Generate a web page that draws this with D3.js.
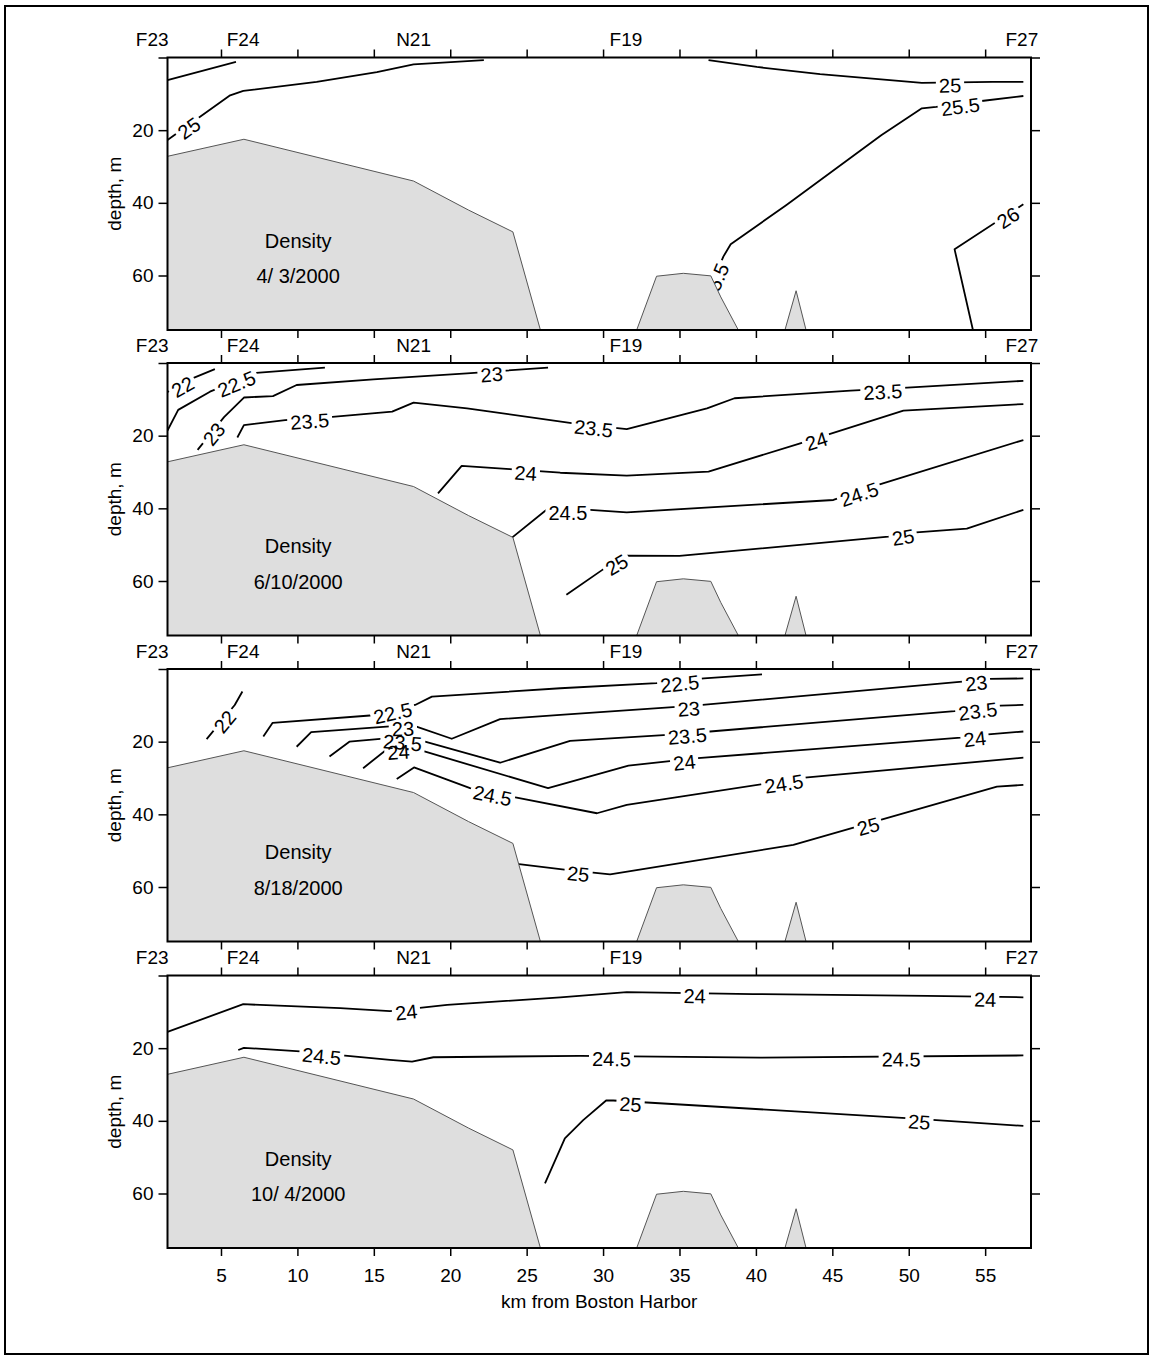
<!DOCTYPE html>
<html>
<head>
<meta charset="utf-8">
<title>Density sections, Boston Harbor transect, 2000</title>
<script src="https://cdn.jsdelivr.net/npm/d3@7"></script>
<style>
  html, body { margin: 0; padding: 0; background: #fff; }
  svg { display: block; font-family: "Liberation Sans", Arial, Helvetica, sans-serif; }
</style>
</head>
<body>
<svg id="chart" width="1153" height="1359"></svg>
<script>
// ---- axis values ----------------------------------------------------------
const kmTicks = [5, 10, 15, 20, 25, 30, 35, 40, 45, 50, 55];
const depthTicks = [0, 20, 40, 60];
const stationNames = ["F23", "F24", "N21", "F19", "F27"];
const stationKm = [0.5, 6.45, 17.6, 31.5, 57.4];
const surveyDates = ["4/ 3/2000", "6/10/2000", "8/18/2000", "10/ 4/2000"];

// ---- bottom profile along the transect (km, depth m) ----------------------
const seafloorKm    = [1.5, 6.5, 17.6, 21.2, 24.1, 25.9, 27, 31, 32.2, 33.5, 35.25, 37.05, 37.7, 38.85, 40, 41.9, 42.63, 43.28, 45, 58];
const seafloorDepth = [27.2, 22.5, 34, 42, 48, 75, 80, 80, 75, 60.2, 59.4, 60.1, 65.9, 75, 80, 75, 64.2, 75, 80, 80];

// ---- density (sigma-t) isolines per survey: level, km, depth, label spots --
const aprContours = [
  { level: 24.5, km: [1.5, 5.98], depth: [6.2, 1.2], labelKm: [] },
  { level: 25, km: [1.5, 5.6, 6.46, 11.26, 15.2, 17.6, 22.2], depth: [22.7, 10.4, 9.2, 6.7, 4.0, 1.9, 0.75], labelKm: [2.8] },
  { level: 25, km: [36.9, 40.06, 44.2, 50.86, 55.5, 57.5], depth: [0.75, 2.6, 4.6, 7.0, 6.7, 6.7], labelKm: [52.7] },
  { level: 25.5, km: [36.9, 37.87, 38.35, 42.0, 48.2, 50.86, 51.8, 54.9, 57.5], depth: [64.5, 54.8, 51.4, 40.6, 21.4, 14.0, 13.6, 11.9, 10.6], labelKm: [37.2, 53.35] },
  { level: 26, km: [54.2, 53.0, 57.5], depth: [75, 52.8, 40.4], labelKm: [56.4] }
];

const junContours = [
  { level: 22, km: [1.5, 2.97, 4.6], depth: [8.0, 4.5, 1.7], labelKm: [2.4] },
  { level: 22.5, km: [1.5, 2.2, 4.28, 7.3, 11.8], depth: [18.6, 12.9, 7.9, 2.7, 1.3], labelKm: [5.95] },
  { level: 23, km: [3.47, 5.2, 6.5, 8.4, 9.95, 14.97, 21.1, 26.4], depth: [23.9, 14.9, 9.5, 9.1, 6.05, 4.5, 2.85, 1.28], labelKm: [4.4, 22.7] },
  { level: 23.5, km: [6.07, 6.5, 9.2, 12.1, 16.2, 17.6, 21.1, 28.06, 31.55, 36.8, 38.6, 46.2, 49.9, 57.5], depth: [20.5, 17.1, 15.7, 14.9, 13.4, 10.9, 12.5, 16.6, 18.2, 12.5, 9.7, 7.6, 6.8, 4.9], labelKm: [10.8, 29.4, 48.3] },
  { level: 24, km: [19.2, 20.75, 23.9, 27.2, 31.55, 36.9, 42.9, 49.65, 57.5], depth: [35.9, 28.3, 29.2, 30.2, 31.0, 29.9, 22.1, 13.1, 11.3], labelKm: [24.95, 43.9] },
  { level: 24.5, km: [24.0, 26.3, 29.15, 31.55, 45.07, 48.1, 57.5], depth: [48.2, 40.4, 40.4, 41.1, 37.7, 33.4, 21.2], labelKm: [27.7, 46.7] },
  { level: 25, km: [27.6, 30.0, 31.55, 35.0, 48.67, 50.5, 53.8, 57.5], depth: [63.8, 56.8, 53.0, 53.1, 47.8, 46.6, 45.6, 40.4], labelKm: [30.8, 49.6] }
];

const augContours = [
  { level: 22, km: [4.06, 5.9, 6.4], depth: [19.3, 9.9, 6.2], labelKm: [5.1] },
  { level: 22.5, km: [7.77, 8.38, 14.75, 17.7, 18.8, 27.2, 33.5, 36.6, 40.4], depth: [18.6, 14.8, 12.8, 9.9, 7.6, 5.3, 3.9, 2.6, 1.5], labelKm: [16.2, 35.0] },
  { level: 23, km: [9.95, 10.9, 16.06, 17.6, 20.1, 23.26, 27.2, 34.8, 36.5, 53.5, 55.3, 57.5], depth: [21.4, 17.4, 15.8, 15.6, 19.2, 13.8, 12.6, 10.4, 9.9, 3.5, 2.7, 2.6], labelKm: [16.9, 35.6, 54.4] },
  { level: 23.5, km: [12.1, 13.4, 15.8, 18.35, 23.26, 27.84, 33.95, 37.0, 53.0, 56.0, 57.5], depth: [24.1, 20.0, 19.1, 20.0, 25.8, 19.8, 18.2, 17.2, 11.6, 10.1, 9.9], labelKm: [16.9, 35.5, 54.5] },
  { level: 24, km: [14.3, 15.8, 17.6, 26.4, 31.66, 36.0, 53.4, 55.2, 57.5], depth: [27.3, 22.3, 21.8, 32.8, 26.6, 24.6, 18.9, 18.0, 17.2], labelKm: [16.6, 35.3, 54.3] },
  { level: 24.5, km: [16.5, 17.63, 21.3, 24.35, 29.6, 31.55, 43.2, 57.5], depth: [30.3, 27.1, 32.8, 35.4, 39.7, 37.4, 29.9, 24.4], labelKm: [22.8, 41.8] },
  { level: 25, km: [24.5, 27.6, 30.46, 42.45, 48.1, 55.77, 57.5], depth: [53.7, 55.3, 56.5, 48.4, 41.6, 32.4, 31.9], labelKm: [28.4, 47.3] }
];

const octContours = [
  { level: 24, km: [1.5, 6.46, 12.8, 16.06, 19.8, 27.2, 31.55, 39.8, 51.2, 57.5], depth: [15.5, 7.9, 9.0, 9.8, 8.1, 6.0, 4.6, 5.1, 5.6, 6.0], labelKm: [17.1, 36.0, 55.0] },
  { level: 24.5, km: [6.13, 6.5, 10.17, 16.06, 17.5, 18.9, 28.5, 40.3, 57.5], depth: [20.5, 19.9, 20.9, 23.2, 23.7, 22.5, 22.1, 22.6, 22.0], labelKm: [11.6, 30.55, 49.5] },
  { level: 25, km: [26.2, 27.5, 28.7, 30.2, 30.67, 50.1, 57.5], depth: [57.2, 44.8, 39.8, 34.4, 34.4, 39.3, 41.4], labelKm: [31.8, 50.7] }
];

const surveys = [aprContours, junContours, augContours, octContours];

// ---- layout ---------------------------------------------------------------
const panelTop = [57.5, 363, 669, 975.5];
const panelH = 272.5;
const axisFont = 19;
const labelFont = 20;

const svg = d3.select("#chart");

// page frame
svg.append("rect")
  .attr("x", 5).attr("y", 6).attr("width", 1143).attr("height", 1348)
  .attr("fill", "none").attr("stroke", "#000").attr("stroke-width", 2);

const x = d3.scaleLinear().domain([1.5, 58]).range([167.5, 1031]);
const y = d3.scaleLinear().domain([0, 75]).range([0, panelH]);
const line = d3.line().x(d => x(d[0])).y(d => y(d[1]));
const floorArea = d3.area().x(d => x(d[0])).y0(y(95)).y1(d => y(d[1]));
const floor = d3.zip(seafloorKm, seafloorDepth);

// position and angle of a contour label placed at a given km along the line
function placeLabel(c, k) {
  for (let i = 0; i < c.km.length - 1; i++) {
    const k0 = c.km[i], k1 = c.km[i + 1];
    if (k >= Math.min(k0, k1) && k <= Math.max(k0, k1) && k0 !== k1) {
      const t = (k - k0) / (k1 - k0);
      const d = c.depth[i] + t * (c.depth[i + 1] - c.depth[i]);
      let ang = Math.atan2(y(c.depth[i + 1]) - y(c.depth[i]), x(k1) - x(k0)) * 180 / Math.PI;
      if (ang > 90) ang -= 180;
      if (ang < -90) ang += 180;
      return { level: c.level, px: x(k), py: y(d), angle: ang };
    }
  }
  return null;
}

surveys.forEach((contours, i) => {
  const g = svg.append("g").attr("transform", `translate(0,${panelTop[i]})`);
  const defs = g.append("defs");
  defs.append("clipPath").attr("id", `plot${i}`)
    .append("rect").attr("x", x(1.5)).attr("y", 0)
    .attr("width", x(58) - x(1.5)).attr("height", panelH);
  const mask = defs.append("mask").attr("id", `gaps${i}`)
    .attr("maskUnits", "userSpaceOnUse")
    .attr("x", 0).attr("y", -40).attr("width", 1153).attr("height", panelH + 80);
  mask.append("rect").attr("x", 0).attr("y", -40).attr("width", 1153).attr("height", panelH + 80).attr("fill", "#fff");

  const body = g.append("g").attr("clip-path", `url(#plot${i})`);

  // isolines, broken where a label sits
  body.append("g").attr("mask", `url(#gaps${i})`)
    .selectAll("path").data(contours).join("path")
    .attr("d", c => line(d3.zip(c.km, c.depth)))
    .attr("fill", "none").attr("stroke", "#000")
    .attr("stroke-width", 1.8).attr("stroke-linejoin", "round");

  // isoline labels
  const labels = contours.flatMap(c => c.labelKm.map(k => placeLabel(c, k))).filter(Boolean);
  const lg = body.append("g");
  labels.forEach(l => {
    const tf = `translate(${l.px},${l.py}) rotate(${l.angle})`;
    const t = lg.append("text")
      .attr("transform", tf).attr("y", 3)
      .attr("text-anchor", "middle").attr("dominant-baseline", "central")
      .attr("font-size", labelFont).attr("fill", "#000")
      .text(String(l.level));
    const w = t.node().getComputedTextLength();
    mask.append("rect").attr("transform", tf)
      .attr("x", -w / 2 - 3).attr("y", -5).attr("width", w + 6).attr("height", 16)
      .attr("fill", "#000");
  });

  // sea floor
  body.append("path").datum(floor).attr("d", floorArea).attr("fill", "#dedede");
  body.append("path").datum(floor).attr("d", line)
    .attr("fill", "none").attr("stroke", "#555").attr("stroke-width", 1);

  // survey caption
  g.append("text").attr("x", x(10.05)).attr("y", y(52.4))
    .attr("text-anchor", "middle").attr("font-size", labelFont).text("Density");
  g.append("text").attr("x", x(10.05)).attr("y", y(62.2))
    .attr("text-anchor", "middle").attr("font-size", labelFont).text(surveyDates[i]);

  // axes
  const styleAxis = a => {
    a.select(".domain").remove();
    a.selectAll("line").attr("stroke", "#000").attr("stroke-width", 1.5);
    a.attr("font-family", null).attr("font-size", axisFont);
    a.selectAll("text").attr("fill", "#000");
  };
  g.append("g").attr("transform", `translate(${x(1.5)},0)`)
    .call(d3.axisLeft(y).tickValues(depthTicks).tickSize(9).tickPadding(5).tickSizeOuter(0)
      .tickFormat(d => d === 0 ? "" : d))
    .call(styleAxis);
  g.append("g").attr("transform", `translate(${x(58)},0)`)
    .call(d3.axisRight(y).tickValues(depthTicks).tickSize(9).tickSizeOuter(0).tickFormat(""))
    .call(styleAxis);
  g.append("g").attr("transform", "translate(0,0)")
    .call(d3.axisTop(x).tickValues(kmTicks).tickSize(8).tickSizeOuter(0).tickFormat(""))
    .call(styleAxis);
  const bottom = g.append("g").attr("transform", `translate(0,${panelH})`)
    .call(d3.axisBottom(x).tickValues(kmTicks).tickSize(8).tickSizeOuter(0)
      .tickFormat(i === surveys.length - 1 ? d3.format("d") : () => ""))
    .call(styleAxis);
  bottom.selectAll("text").attr("y", 34).attr("dy", 0);

  // plot frame
  g.append("rect").attr("x", x(1.5)).attr("y", 0)
    .attr("width", x(58) - x(1.5)).attr("height", panelH)
    .attr("fill", "none").attr("stroke", "#000").attr("stroke-width", 2);

  // station names above the section
  g.selectAll("text.station").data(stationNames).join("text")
    .attr("class", "station")
    .attr("x", (d, j) => x(stationKm[j])).attr("y", -11.5)
    .attr("text-anchor", "middle").attr("font-size", axisFont).text(d => d);

  // depth axis title
  g.append("text").attr("transform", `translate(121,${panelH / 2}) rotate(-90)`)
    .attr("text-anchor", "middle").attr("font-size", axisFont).text("depth, m");
});

// distance axis title
svg.append("text").attr("x", (x(1.5) + x(58)) / 2).attr("y", 1308)
  .attr("text-anchor", "middle").attr("font-size", axisFont).text("km from Boston Harbor");
</script>
</body>
</html>
